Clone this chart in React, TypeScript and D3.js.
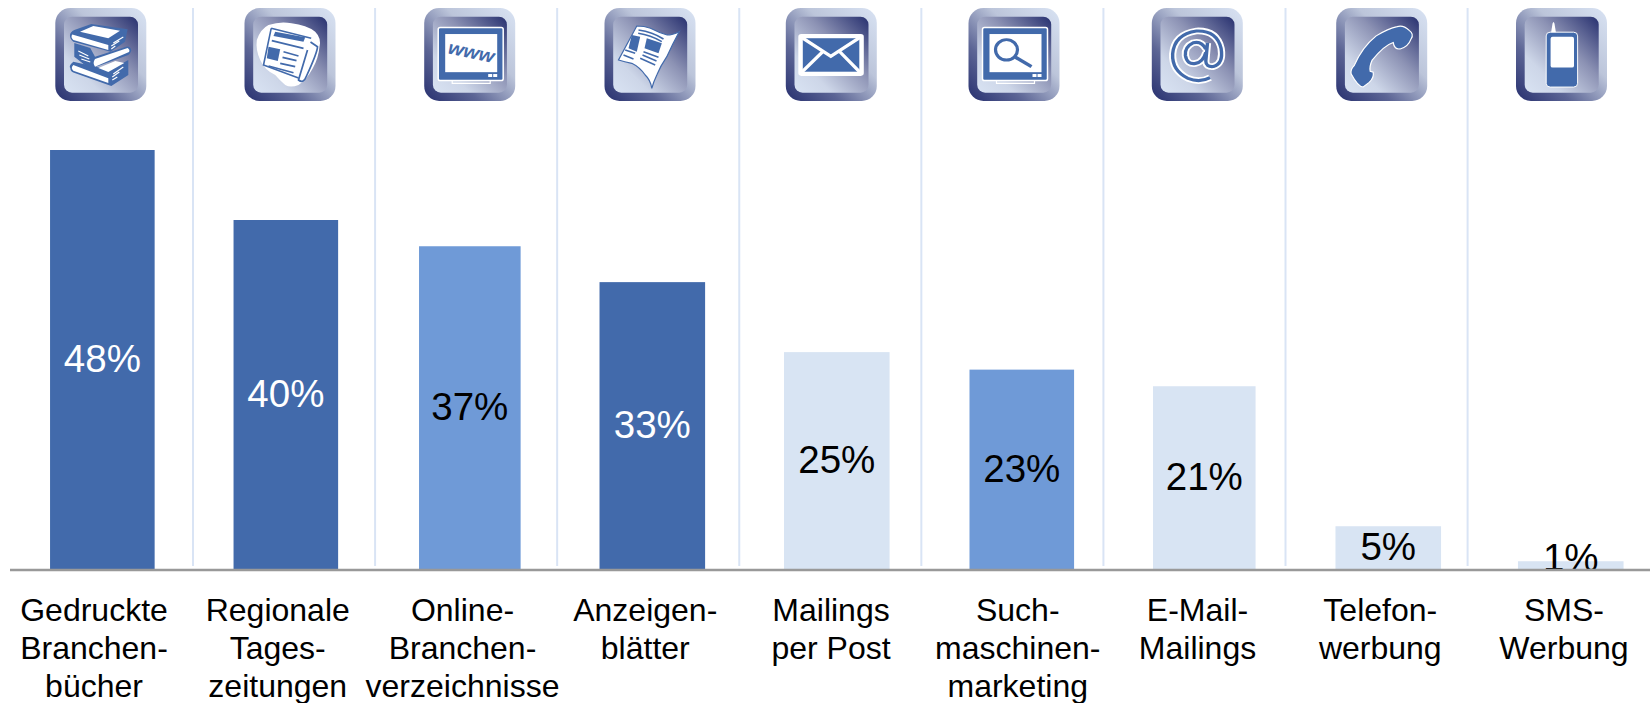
import React from "react";
import * as d3 from "d3";

const categories = ["Gedruckte Branchenbücher","Regionale Tageszeitungen","Online-Branchenverzeichnisse","Anzeigenblätter","Mailings per Post","Suchmaschinenmarketing","E-Mail-Mailings","Telefonwerbung","SMS-Werbung"];
const values = [48,40,37,32.9,24.9,22.9,21,5,1];
const labelLines = [["Gedruckte","Branchen-","bücher"],["Regionale","Tages-","zeitungen"],["Online-","Branchen-","verzeichnisse"],["Anzeigen-","blätter"],["Mailings","per Post"],["Such-","maschinen-","marketing"],["E-Mail-","Mailings"],["Telefon-","werbung"],["SMS-","Werbung"]];
const tones = ["dark","dark","mid","dark","light","mid","light","light","light"];
const iconKinds = ["books","paper","www","mag","mail","search","at","phone","mobile"];

const W = 1650, H = 703;
const FONT = "'Liberation Sans', Arial, sans-serif";
const toneFill: Record<string,string> = { dark: "#426aab", mid: "#6f9ad7", light: "#d8e4f3" };
const baseY = 570;
const x = d3.scaleBand<string>().domain(categories).range([10.6, 1662]).paddingInner(0.43).paddingOuter(0.215);
const y = d3.scaleLinear().domain([0, 48]).range([baseY, 150]);
const sep = d3.scaleLinear().domain([0, 7]).range([193, 1467.6]);
const labelX = d3.scalePoint<string>().domain(categories).range([94, 1564]);
const labelNudge = [0,0,1,0,2,5,1,0,0];
const iconCenters = [100.8, 290, 469.7, 650, 831.3, 1014, 1197.3, 1381.7, 1561.5];
const barEdgeNudge = [[0,0],[0,0],[2,-1],[-1,0],[0,1],[2,2],[2,0],[1,2],[0,1]];
const BLUE = "#426aab";

function Icon({ kind }: { kind: string }) {
  switch (kind) {
    case "books":
      return <g>
        <path d="M18 53.7 Q13 58 15 60 Q15 63 18 64.5 L56 78 L73 67 L73 52 L55 62 Z" fill={BLUE}/>
        <path d="M43 60 L60 53 L69 55 L53 64 Z" fill="#fff"/>
        <path d="M18 57 L53 70.3 L53 75 L18 62.7 Q15 60 18 57Z" fill="#fff"/>
        <path d="M57 72 L62 69 M57 69 L64 64 M58 66 L68 59" stroke="#fff" strokeWidth="1.1" fill="none"/>
        <path d="M19 35 L19 48.7 L34.7 61 L73 47 Q77 43 75.7 41 Q74 38 71 38.7 L39.7 48.7 L35 40 Z" fill={BLUE}/>
        <path d="M39.7 51 L72.3 40 Q75 42 73.7 44 L39.7 58.7 Q37 55 39.7 51Z" fill="#fff"/>
        <path d="M23 43 L33 48 M24 47 L34 51 M26 51 L35 54" stroke="#fff" strokeWidth="1.1" fill="none"/>
        <path d="M14.7 27 Q15 24 19 22 L36 16 L72.3 21.3 L69.7 33.7 L55.3 43.7 L18 33.7 Q14 30 14.7 27Z" fill={BLUE}/>
        <path d="M24.7 23.7 L38 18 L64.7 22.7 L53 30.3 Z" fill="#fff"/>
        <path d="M17 26.5 L53 37 L53 42 L18 32 Q15 29 17 26.5Z" fill="#fff"/>
        <path d="M56 41 L60 38 M56 38 L64 33 M58 35 L68 29" stroke="#fff" strokeWidth="1.1" fill="none"/>
      </g>;
    case "paper":
      return <g>
        <path d="M12.3 32 Q16 21 24 17 Q36 13 47 15.3 Q62 17 70.7 23.7 Q77 30 75 38.7 Q74 50 68.3 60.3 Q62 72 54 77 Q46 80 40.7 77 Q35 72 30.7 67 Q20 62 15.7 52 Q11 42 12.3 32Z" fill="#fff"/>
        <path d="M26.7 20.3 L66.7 30.3 L54 72 L19 57 Z" fill="#fff"/>
        <path d="M26.7 20.3 L66.7 30.3 M26.7 20.3 L19 57 L54 70" stroke={BLUE} strokeWidth="1.6" fill="none"/>
        <path d="M30.7 23.7 L60.7 29.3 L59 33.7 L29 28Z" fill={BLUE}/>
        <path d="M24 38.7 L35.7 41.3 L33.3 53 L22.3 50.3Z" fill={BLUE}/>
        <path d="M27.3 32.7 L59 40.3 M39 43.7 L54 48 M38 49.3 L52 52.7 M35.7 55.3 L50.7 58.7 M24 58 L49 64.7" stroke={BLUE} strokeWidth="1.7" fill="none"/>
        <path d="M66 34 L73 38.7 Q73 44 62 68 Q59 76 54 72 L63 42" fill="none" stroke={BLUE} strokeWidth="1.7"/>
      </g>;
    case "www":
    case "search":
      return <g transform="scale(1,0.93)">
        <path d="M28 76 L28 81 L66 81 L66 76" fill="none" stroke="#fff" strokeWidth="1.2"/>
        <rect x="14" y="21" width="65" height="57" rx="2" fill={BLUE} stroke="#fff" strokeWidth="1.5"/>
        <rect x="21" y="28" width="52" height="41" fill="#fff"/>
        <rect x="64" y="71" width="4" height="3.2" fill="#fff"/><rect x="69" y="71" width="4" height="3.2" fill="#fff"/>
        {kind === "www"
          ? <text x="47" y="54" transform="rotate(13 47 48)" textAnchor="middle" fontFamily={FONT} fontWeight="700" fontStyle="italic" fontSize="20" fill={BLUE}>www</text>
          : <g fill="none" stroke={BLUE}><circle cx="38" cy="45" r="11" strokeWidth="3.2"/><path d="M47 53 L63 63" strokeWidth="3.6"/></g>}
      </g>;
    case "mag":
      return <g>
        <path d="M32.3 18 Q40 18 46 20.3 Q55 25 62.7 27 Q68 27 74.7 23.7 Q68 36 62.3 48.7 Q56 58 52.3 67 Q49 74 47.3 80.3 Q46 72 40.7 67 Q35 59 27.3 55.3 Q20 54 14 52 Z" fill="#fff" stroke={BLUE} strokeWidth="1.2"/>
        <path d="M27.3 27 L35.7 28.7 L32.3 43.7 L24 40.3Z" fill={BLUE}/>
        <path d="M42.3 30.3 L57.3 35.3 L54 45.3 L40 40.3Z" fill={BLUE}/>
        <path d="M34 22 Q48 24 59 31 M33.7 25.3 Q46 27 57.3 33.7 M39 43.7 L54 49.3 M38 47 L52 53 M35.7 50.3 L50.7 57 M20.7 42 L30.7 45.3 M19 47 L29 51" stroke={BLUE} strokeWidth="1.5" fill="none"/>
      </g>;
    case "mail":
      return <g transform="scale(1,0.93)">
        <rect x="12.5" y="28" width="65.5" height="45" rx="3" fill="#fff"/>
        <rect x="17" y="32.5" width="56.5" height="36" fill={BLUE}/>
        <path d="M15 31 L45 52 L75 31 M15 70 L37 47 M75 70 L54 47" fill="none" stroke="#fff" strokeWidth="3.4"/>
      </g>;
    case "at": {
      const d = "M60 80 Q48 87 34 81 Q15 71 16 50 Q18 25 44 21 Q68 20 73 43 Q76 62 64 66 Q55 67 55 59 L57 36 M55 44 Q50 33 40 36 Q30 41 31 52 Q33 64 43 62 Q52 60 55 48";
      return <g fill="none" transform="translate(45.5,46.7) scale(0.85,0.79) translate(-45,-51)">
        <path d={d} stroke="#fff" strokeWidth="8.5"/>
        <path d={d} stroke={BLUE} strokeWidth="4"/>
      </g>;
    }
    case "phone":
      return <path transform="scale(1,0.93)" d="M61 20 Q67 18 73 24 Q78 28 75 33 Q72 42 64 44 Q58 45 57 37 Q48 40 36 56 Q33 63 34 68 L37 69 Q38 75 33 80 L27 85 Q22 85 15 71 Q14 66 18 62 Q26 42 40 30 Q52 22 61 20Z" fill={BLUE} stroke="#fff" strokeWidth="1.2"/>;
    case "mobile":
      return <g transform="scale(1,0.93)">
        <path d="M35 27 L36.5 17 Q37.5 13 38.5 17 L40 27Z" fill="#fff"/>
        <rect x="30.2" y="26" width="31.4" height="59" rx="4" fill={BLUE} stroke="#fff" strokeWidth="1"/>
        <rect x="34.6" y="31" width="23.4" height="33" rx="2" fill="#fff"/>
      </g>;
  }
  return null;
}

export default function App() {
  return (
    <svg width={W} height={H} viewBox={`0 0 ${W} ${H}`} style={{ position: "absolute", left: 0, top: 0, background: "#fff", display: "block" }}>
      <defs>
        <linearGradient id="outerG" x1="0" y1="1" x2="1" y2="0">
          <stop offset="0" stopColor="#27306f"/><stop offset="0.3" stopColor="#5c6595"/><stop offset="0.62" stopColor="#bcc5da"/><stop offset="1" stopColor="#d9e3f3"/>
        </linearGradient>
        <linearGradient id="innerG" x1="0" y1="1" x2="1" y2="0">
          <stop offset="0" stopColor="#d9e3f3"/><stop offset="0.25" stopColor="#cdd6e8"/><stop offset="0.6" stopColor="#8c92b4"/><stop offset="1" stopColor="#27306f"/>
        </linearGradient>
      </defs>
      {d3.range(8).map(i => <line key={i} x1={sep(i)} x2={sep(i)} y1={8} y2={566} stroke="#d9e4f5" strokeWidth={2}/>)}
      {categories.map((c, i) => {
        const [nl, nr] = barEdgeNudge[i];
        const bx = x(c)! + nl, bw = x.bandwidth() - nl + nr, cx = bx + bw / 2, top = y(values[i]);
        const tone = tones[i];
        return <g key={c}>
          <g transform={`translate(${iconCenters[i] - 45.5},8)`}>
            <rect x="0" y="0" width="91" height="93" rx="15" fill="url(#outerG)"/>
            <rect x="8.7" y="8.7" width="74" height="76" rx="8" fill="url(#innerG)"/>
            <Icon kind={iconKinds[i]}/>
          </g>
          <rect x={bx} y={top} width={bw} height={baseY - top} fill={toneFill[tone]}/>
          <text x={cx} y={Math.min((top + baseY) / 2 + 12, 571)} textAnchor="middle" fontFamily={FONT} fontSize="38.5" fill={tone === "dark" ? "#fff" : "#000"}>{Math.round(values[i])}%</text>
          {labelLines[i].map((ln, j) => <text key={j} x={labelX(c)! + labelNudge[i]} y={621 + j * 38} textAnchor="middle" fontFamily={FONT} fontSize="32" fill="#000">{ln}</text>)}
        </g>;
      })}
      <line x1={10} x2={1650} y1={baseY} y2={baseY} stroke="#999" strokeWidth={2.5}/>
    </svg>
  );
}
